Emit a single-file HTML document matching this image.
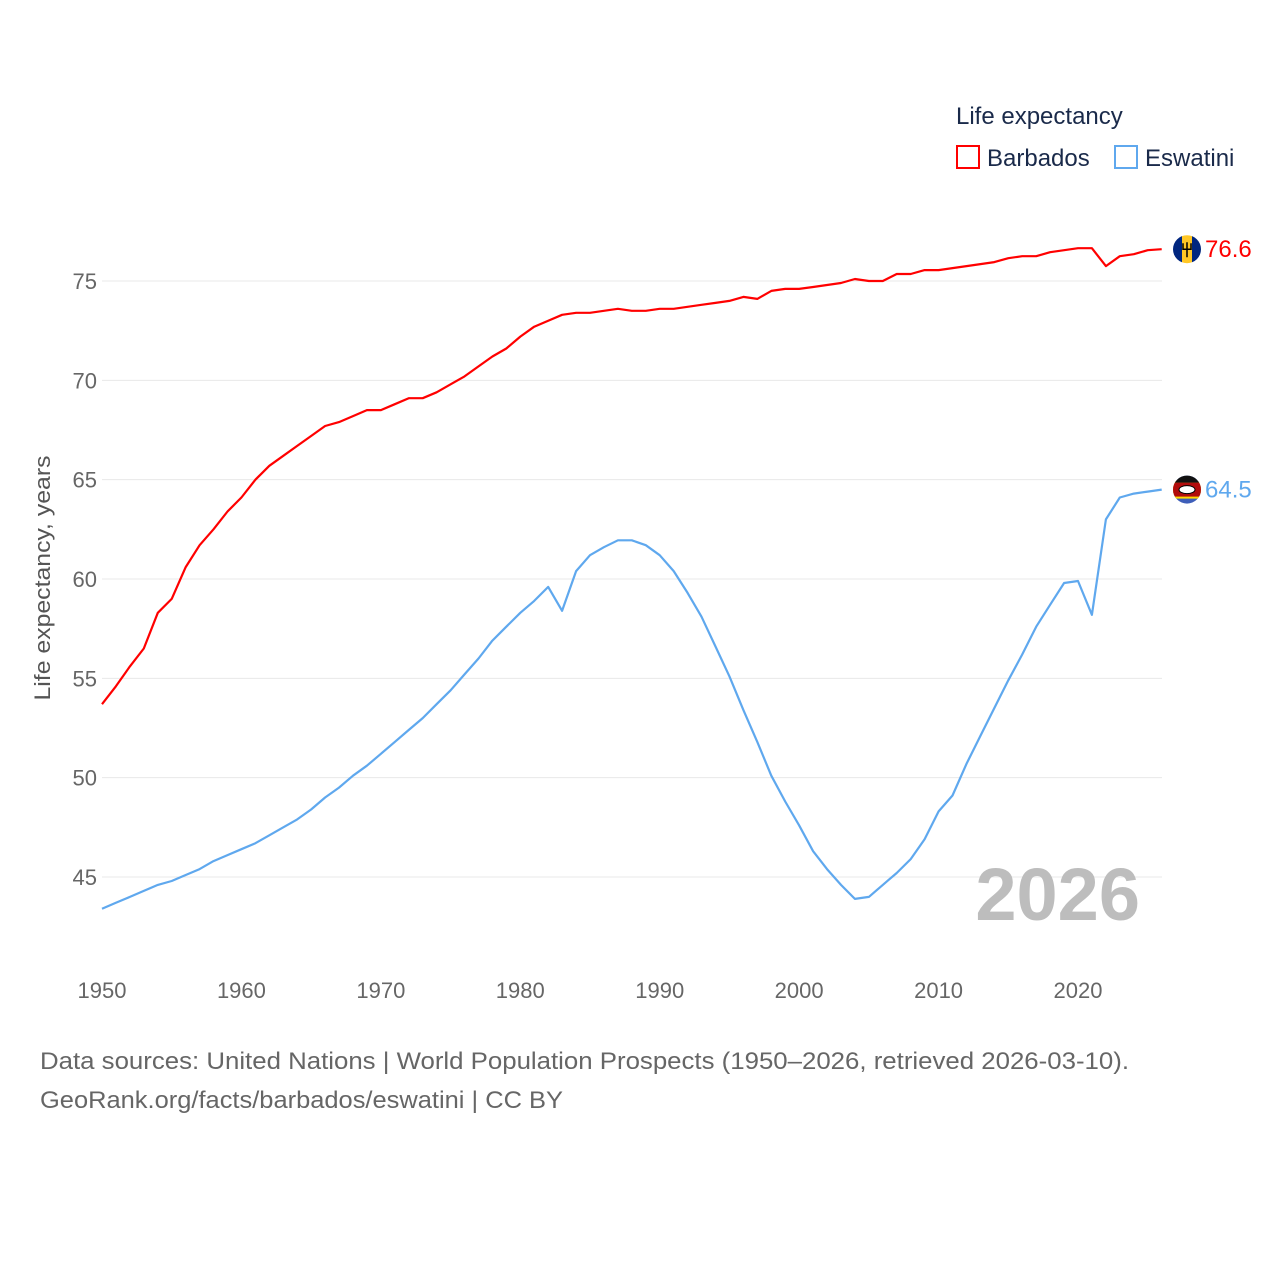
<!DOCTYPE html>
<html><head><meta charset="utf-8">
<style>
html,body{margin:0;padding:0;background:#fff;}
body{width:1280px;height:1280px;overflow:hidden;font-family:"Liberation Sans",sans-serif;}
svg text{font-family:"Liberation Sans",sans-serif;}
</style></head>
<body>
<svg id="chart" width="1280" height="1280" viewBox="0 0 1280 1280" xmlns="http://www.w3.org/2000/svg">
  <g id="grid"></g>
  <g id="yticks"></g>
  <g id="xticks"></g>
  <text transform="translate(50,578) rotate(-90)" text-anchor="middle" font-size="22" fill="#555" textLength="245" lengthAdjust="spacingAndGlyphs">Life expectancy, years</text>
  <text x="1140" y="920" text-anchor="end" font-size="74" font-weight="bold" fill="#bdbdbd">2026</text>
  <g id="series"></g>
  <g>
    <text x="956" y="124" font-size="24" fill="#1a2a4a">Life expectancy</text>
    <g>
      <rect x="957" y="146" width="22" height="22" fill="none" stroke="#ff0000" stroke-width="2"/>
      <text x="987" y="166" font-size="24" fill="#1a2a4a">Barbados</text>
    </g>
    <g>
      <rect x="1115" y="146" width="22" height="22" fill="none" stroke="#5fa8ee" stroke-width="2"/>
      <text x="1145" y="166" font-size="24" fill="#1a2a4a">Eswatini</text>
    </g>
  </g>
  <g id="endlabels"></g>
  <text x="40" y="1069" font-size="24" fill="#666" textLength="1089" lengthAdjust="spacingAndGlyphs">Data sources: United Nations | World Population Prospects (1950–2026, retrieved 2026-03-10).</text>
  <text x="40" y="1108" font-size="24" fill="#666" textLength="523" lengthAdjust="spacingAndGlyphs">GeoRank.org/facts/barbados/eswatini | CC BY</text>
</svg>
<script>
const years = [];
for (let y = 1950; y <= 2026; y++) years.push(y);
const barbados = [53.7,54.6,55.6,56.5,58.3,59.0,60.6,61.7,62.5,63.4,64.1,65.0,65.7,66.2,66.7,67.2,67.7,67.9,68.2,68.5,68.5,68.8,69.1,69.1,69.4,69.8,70.2,70.7,71.2,71.6,72.2,72.7,73.0,73.3,73.4,73.4,73.5,73.6,73.5,73.5,73.6,73.6,73.7,73.8,73.9,74.0,74.2,74.1,74.5,74.6,74.6,74.7,74.8,74.9,75.1,75.0,75.0,75.35,75.35,75.55,75.55,75.65,75.75,75.85,75.95,76.15,76.25,76.25,76.45,76.55,76.65,76.65,75.75,76.25,76.35,76.55,76.6];
const eswatini = [43.4,43.7,44.0,44.3,44.6,44.8,45.1,45.4,45.8,46.1,46.4,46.7,47.1,47.5,47.9,48.4,49.0,49.5,50.1,50.6,51.2,51.8,52.4,53.0,53.7,54.4,55.2,56.0,56.9,57.6,58.3,58.9,59.6,58.4,60.4,61.2,61.6,61.95,61.95,61.7,61.2,60.4,59.3,58.1,56.6,55.1,53.4,51.8,50.1,48.8,47.6,46.3,45.4,44.6,43.9,44.0,44.6,45.2,45.9,46.9,48.3,49.1,50.7,52.1,53.5,54.9,56.2,57.6,58.7,59.8,59.9,58.2,63.0,64.1,64.3,64.4,64.5];
const yTicks = [45,50,55,60,65,70,75];
const xTicks = [1950,1960,1970,1980,1990,2000,2010,2020];
const endLabels = ["76.6","64.5"];

const NS = "http://www.w3.org/2000/svg";
const x = v => 102 + (v - 1950) * (976 / 70);
const y = v => 281 + (75 - v) * (596 / 30);
function mk(tag, attrs, parent) {
  const e = document.createElementNS(NS, tag);
  for (const k in attrs) e.setAttribute(k, attrs[k]);
  parent.appendChild(e);
  return e;
}
const grid = document.getElementById('grid');
const yt = document.getElementById('yticks');
const xt = document.getElementById('xticks');
yTicks.forEach(t => {
  const l = mk('line', {x1: 102, x2: 1162, y1: y(t), y2: y(t), stroke: '#e8e8e8', 'stroke-width': 1}, grid);
  
  
  const tx = mk('text', {x: 97, y: y(t) + 8, 'text-anchor': 'end', 'font-size': 22, fill: '#666'}, yt);
  tx.textContent = t;
  
  
});
xTicks.forEach(t => {
  const tx = mk('text', {x: x(t), y: 998, 'text-anchor': 'middle', 'font-size': 22, fill: '#666'}, xt);
  tx.textContent = t;
  
  
});
const ser = document.getElementById('series');
function line(data, color, name) {
  const d = data.map((v, i) => (i ? 'L' : 'M') + x(years[i]).toFixed(1) + ',' + y(v).toFixed(1)).join('');
  const p = mk('path', {d: d, fill: 'none', stroke: color, 'stroke-width': 2.2, 'stroke-linejoin': 'round'}, ser);
  
  
}
line(barbados, '#ff0000', 'barbados-line');
line(eswatini, '#5fa8ee', 'eswatini-line');

const el = document.getElementById('endlabels');
function flag(cy, kind) {
  const g = mk('g', {}, el);
  
  
  const cx = 1187;
  const clipId = 'clip-' + kind;
  const cp = mk('clipPath', {id: clipId}, g);
  mk('circle', {cx: cx, cy: cy, r: 14}, cp);
  const inner = mk('g', {'clip-path': 'url(#' + clipId + ')'}, g);
  if (kind === 'barbados') {
    mk('rect', {x: cx - 15, y: cy - 15, width: 10, height: 30, fill: '#00267f'}, inner);
    mk('rect', {x: cx - 5, y: cy - 15, width: 10, height: 30, fill: '#ffc726'}, inner);
    mk('rect', {x: cx + 5, y: cy - 15, width: 10, height: 30, fill: '#00267f'}, inner);
    mk('path', {d: `M${cx},${cy-7}V${cy+8}M${cx-4},${cy-6}V${cy}H${cx+4}V${cy-6}`, stroke: '#000', 'stroke-width': 1.5, fill: 'none'}, inner);
  } else {
    mk('rect', {x: cx - 15, y: cy - 15, width: 30, height: 30, fill: '#3e5eb9'}, inner);
    mk('rect', {x: cx - 15, y: cy - 9, width: 30, height: 18, fill: '#ffd900'}, inner);
    mk('rect', {x: cx - 15, y: cy - 7, width: 30, height: 14, fill: '#b10c0c'}, inner);
    mk('ellipse', {cx: cx, cy: cy, rx: 8, ry: 4, fill: '#fff', stroke: '#000', 'stroke-width': 1}, inner);
    mk('rect', {x: cx - 15, y: cy - 15, width: 30, height: 8, fill: '#111'}, inner);
  }
}
const lastB = barbados[barbados.length - 1], lastE = eswatini[eswatini.length - 1];
flag(y(lastB), 'barbados');
flag(y(lastE), 'eswatini');
const t1 = mk('text', {x: 1205, y: y(lastB) + 8, 'font-size': 24, fill: '#ff0000'}, el);
t1.textContent = endLabels[0];


const t2 = mk('text', {x: 1205, y: y(lastE) + 8, 'font-size': 24, fill: '#5fa8ee'}, el);
t2.textContent = endLabels[1];


</script>
</body></html>
